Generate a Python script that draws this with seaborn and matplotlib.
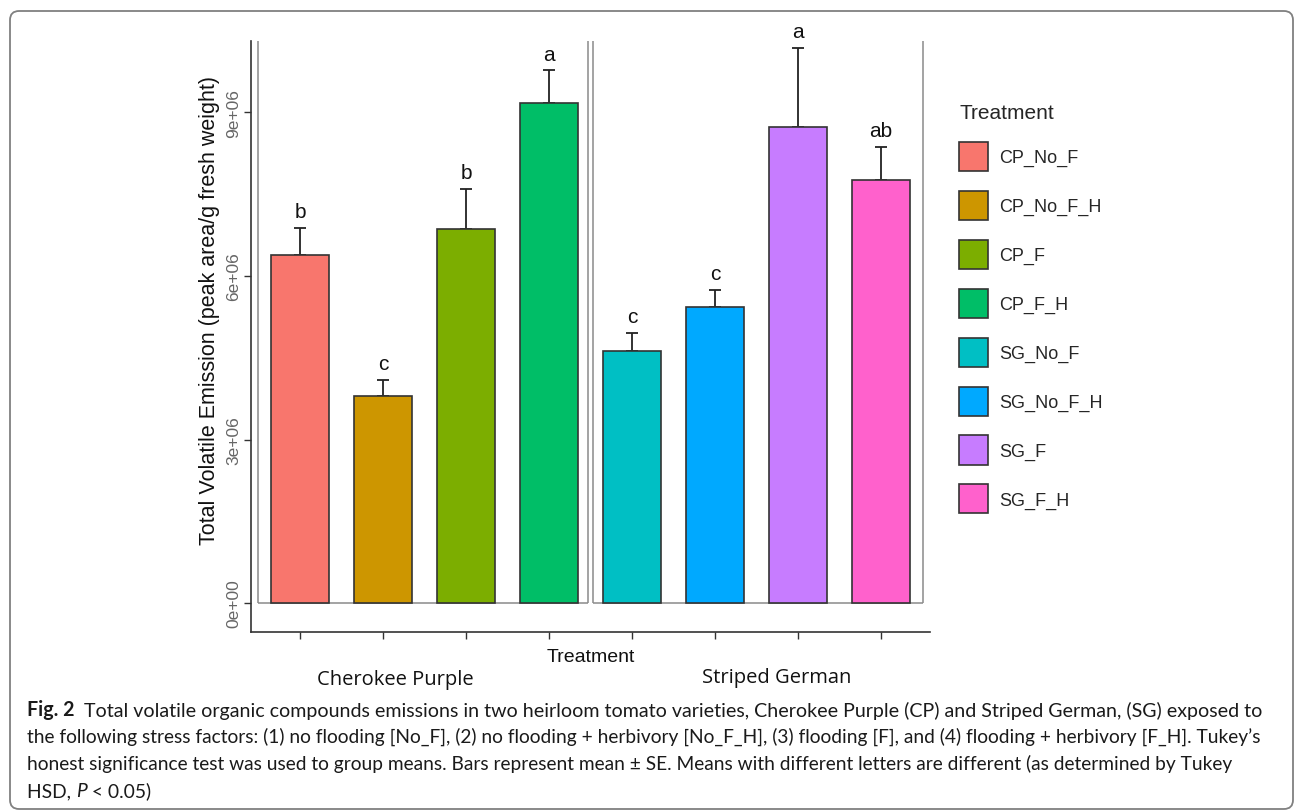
import numpy as np
import pandas as pd
import seaborn as sns
import matplotlib.pyplot as plt
from matplotlib.patches import FancyBboxPatch

# treatment means and standard errors
treatments = ['CP_No_F', 'CP_No_F_H', 'CP_F', 'CP_F_H',
              'SG_No_F', 'SG_No_F_H', 'SG_F', 'SG_F_H']
means = [6.38e6, 3.79e6, 6.87e6, 9.17e6, 4.63e6, 5.44e6, 8.73e6, 7.76e6]
se = [0.50e6, 0.31e6, 0.72e6, 0.60e6, 0.32e6, 0.30e6, 1.45e6, 0.61e6]
letters = ['b', 'c', 'b', 'a', 'c', 'c', 'a', 'ab']
varieties = ['Cherokee Purple', 'Striped German']
variety = ['Cherokee Purple'] * 4 + ['Striped German'] * 4
colors = ['#F8766D', '#CD9600', '#7CAE00', '#00BE67',
          '#00BFC4', '#00A9FF', '#C77CFF', '#FF61CC']
yticks = [0, 3e6, 6e6, 9e6]
ytick_labels = ['0e+00', '3e+06', '6e+06', '9e+06']

caption = [
    [('Fig. 2', 'bold', 'normal'),
     ('  Total volatile organic compounds emissions in two heirloom tomato varieties, '
      'Cherokee Purple (CP) and Striped German, (SG) exposed to', 'normal', 'normal')],
    [('the following stress factors: (1) no flooding [No_F], (2) no flooding + herbivory '
      '[No_F_H], (3) flooding [F], and (4) flooding + herbivory [F_H]. Tukey\u2019s', 'normal', 'normal')],
    [('honest significance test was used to group means. Bars represent mean \u00b1 SE. '
      'Means with different letters are different (as determined by Tukey', 'normal', 'normal')],
    [('HSD, ', 'normal', 'normal'), ('P', 'normal', 'italic'), (' < 0.05)', 'normal', 'normal')],
]
caption_right = [1266, 1268, 1235, None]

df = pd.DataFrame({'Treatment': treatments, 'mean': means, 'se': se, 'variety': variety})

sns.set_theme(style='white')
plt.rcParams['font.family'] = ['Liberation Sans', 'DejaVu Sans']

W, H = 1295, 812
fig = plt.figure(figsize=(W / 100, H / 100), dpi=100)
ax = fig.add_axes([251 / W, 1 - 633 / H, 679 / W, 591 / H])

sns.barplot(data=df, x='Treatment', y='mean', hue='Treatment', order=treatments,
            hue_order=treatments, palette=colors, saturation=1, width=0.7,
            edgecolor='#333333', linewidth=1.2, errorbar=None, legend=True, ax=ax, zorder=3)

x = np.arange(len(treatments))
ax.errorbar(x, df['mean'], yerr=[np.zeros(len(x)), df['se']], fmt='none',
            ecolor='#222222', elinewidth=1.3, capsize=4, capthick=1.3, zorder=2)

for xi, m, s, lab in zip(x, means, se, letters):
    ax.text(xi, m + s + 0.2e6, lab, ha='center', va='baseline', fontsize=15, color='#111111')

ax.set_xlim(-0.59, 7.59)
ax.set_ylim(-0.53e6, 10.31e6)

# facet panel borders (left, right, bottom), one per variety
top = ax.get_ylim()[1]
gap = 0.03
for gi, v in enumerate(varieties):
    idx = [i for i, vv in enumerate(variety) if vv == v]
    left = idx[0] - 0.5 + (gap if gi > 0 else 0)
    right = idx[-1] + 0.5 - (gap if gi < len(varieties) - 1 else 0)
    ax.vlines([left, right], 0, top, color='#8a8a8a', lw=1.1, zorder=1)
    ax.hlines(0, left, right, color='#8a8a8a', lw=1.1, zorder=1)

for side in ['top', 'right']:
    ax.spines[side].set_visible(False)
for side in ['left', 'bottom']:
    ax.spines[side].set_color('#333333')
    ax.spines[side].set_linewidth(1.2)

ax.set_yticks(yticks, ytick_labels, rotation=90, va='center')
ax.set_xticks(x, [''] * len(x))
ax.tick_params(axis='y', left=True, length=5, width=1, color='#333333',
               labelcolor='#666666', labelsize=12.5, pad=2)
ax.tick_params(axis='x', bottom=True, length=5, width=1, color='#333333')

ax.set_ylabel('Total Volatile Emission (peak area/g fresh weight)', fontsize=15.5, color='#111111')
ax.yaxis.label.set_va('center')
ax.yaxis.set_label_coords((210 - 251) / 679, 0.545)
ax.set_xlabel('Treatment', fontsize=14, color='#111111')
ax.xaxis.label.set_va('center')
ax.xaxis.set_label_coords((591 - 251) / 679, (633 - 658) / 591)

fig.text(395 / W, 1 - 680 / H, 'Cherokee Purple', ha='center', va='center',
         fontsize=14.5, family=['Open Sans', 'DejaVu Sans'], color='#111111')
fig.text(777 / W, 1 - 678 / H, 'Striped German', ha='center', va='center',
         fontsize=14.5, family=['Open Sans', 'DejaVu Sans'], color='#111111')

sns.move_legend(ax, 'upper left', bbox_to_anchor=(959 / W, 1 - 104 / H),
                bbox_transform=fig.transFigure, frameon=False, title='Treatment',
                fontsize=13, title_fontsize=15, handlelength=1.6, handleheight=2.1,
                labelspacing=1.1, handletextpad=0.65, borderpad=0, borderaxespad=0,
                alignment='left')

# caption below the chart
cap_family = ['Lato', 'DejaVu Sans']
cap_lines = []
baselines = [716, 743, 770, 797]
for line, yb in zip(caption, baselines):
    prev = None
    texts = []
    for txt, wt, st in line:
        if prev is None:
            t = fig.text(27 / W, 1 - yb / H, txt, ha='left', va='baseline', fontsize=14,
                         fontweight=wt, fontstyle=st, family=cap_family, color='#1a1a1a')
        else:
            t = ax.annotate(txt, xy=(1, 0), xycoords=prev, ha='left', va='bottom',
                            fontsize=14, fontweight=wt, fontstyle=st, family=cap_family,
                            color='#1a1a1a')
        texts.append(t)
        prev = t
    cap_lines.append(texts)

# scale each caption line so it spans the same width as in the original
fig.canvas.draw()
r = fig.canvas.get_renderer()
scales = []
for texts, xr in zip(cap_lines, caption_right):
    if xr is None:
        continue
    w = texts[-1].get_window_extent(r).x1 - texts[0].get_window_extent(r).x0
    scales.append((xr - 27) / w)
for i, texts in enumerate(cap_lines):
    s = scales[i] if i < len(scales) else np.mean(scales)
    for t in texts:
        t.set_fontsize(14 * s)

box = FancyBboxPatch((10 / W, 1 - 810 / H), (1293 - 10) / W, (810 - 12) / H,
                     boxstyle='round,pad=0,rounding_size=0.007', mutation_aspect=W / H,
                     transform=fig.transFigure, facecolor='none', edgecolor='#808080',
                     lw=1.3, zorder=0)
fig.patches.append(box)

fig.savefig('out.png', dpi=100)
